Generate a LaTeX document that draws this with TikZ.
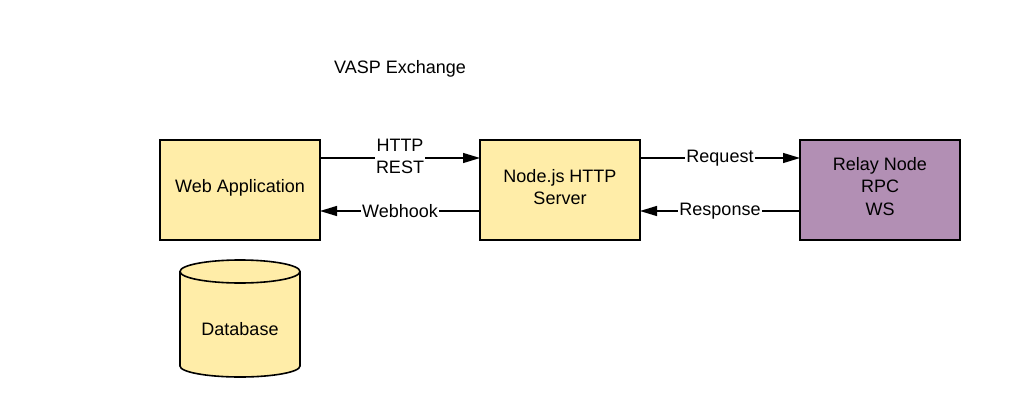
\documentclass[tikz,border=0pt]{standalone}
\usepackage{fontspec}
\setmainfont{Liberation Sans}
\usetikzlibrary{arrows.meta}
\definecolor{boxyellow}{HTML}{FFEDA8}
\definecolor{boxpurple}{HTML}{B28FB4}
\tikzset{
  txt/.style={font=\fontsize{18}{22.5}\selectfont,align=center},
  box/.style={draw=black,line width=1.6pt,minimum width=160pt,minimum height=100pt,inner sep=0pt},
  dbline/.style={draw=black,line width=1.6pt},
  conn/.style={line width=1.3pt,-{Triangle[length=17pt,width=10pt]}},
  lbl/.style={fill=white,inner sep=1pt,align=center,font=\fontsize{18}{22}\selectfont},
}
\begin{document}
\begin{tikzpicture}[x=1pt,y=-1pt]
\useasboundingbox (0,0) rectangle (1020,412);
\node[txt] (title) at (400,69) {VASP Exchange};
\node[box,fill=boxyellow] (web) at (240,190) {};
\node[txt] (webt) at (240,188) {Web Application};
\node[box,fill=boxyellow] (srv) at (560,190) {};
\node[txt] (srvt) at (560,187) {Node.js HTTP\\Server};
\node[box,fill=boxpurple] (relay) at (880,190) {};
\node[txt] (relayt) at (880,186.5) {Relay Node\\RPC\\WS};
% database cylinder
\coordinate (dbtop) at (240,271.5);
\coordinate (dbbot) at (240,366);
\path[dbline,fill=boxyellow] (dbbot) ellipse [x radius=60, y radius=11];
\fill[boxyellow] (180,271.5) rectangle (300,366);
\draw[dbline] (180,271.5) -- (180,366);
\draw[dbline] (300,271.5) -- (300,366);
\path[dbline,fill=boxyellow] (dbtop) ellipse [x radius=60, y radius=11.5];
\node[txt] (db) at (240,329) {Database};
\coordinate (w1) at (320,158); \coordinate (s1) at (480,158);
\coordinate (w2) at (320,211); \coordinate (s2) at (480,211);
\coordinate (s3) at (640,158); \coordinate (r3) at (800,158);
\coordinate (s4) at (640,211); \coordinate (r4) at (800,211);
\draw[conn] (w1) -- node[lbl,yshift=2pt] {HTTP\\REST} (s1);
\draw[conn] (s2) -- node[lbl] {Webhook} (w2);
\draw[conn] (s3) -- node[lbl] {Request} (r3);
\draw[conn] (r4) -- node[lbl] {Response} (s4);
\end{tikzpicture}
\end{document}
